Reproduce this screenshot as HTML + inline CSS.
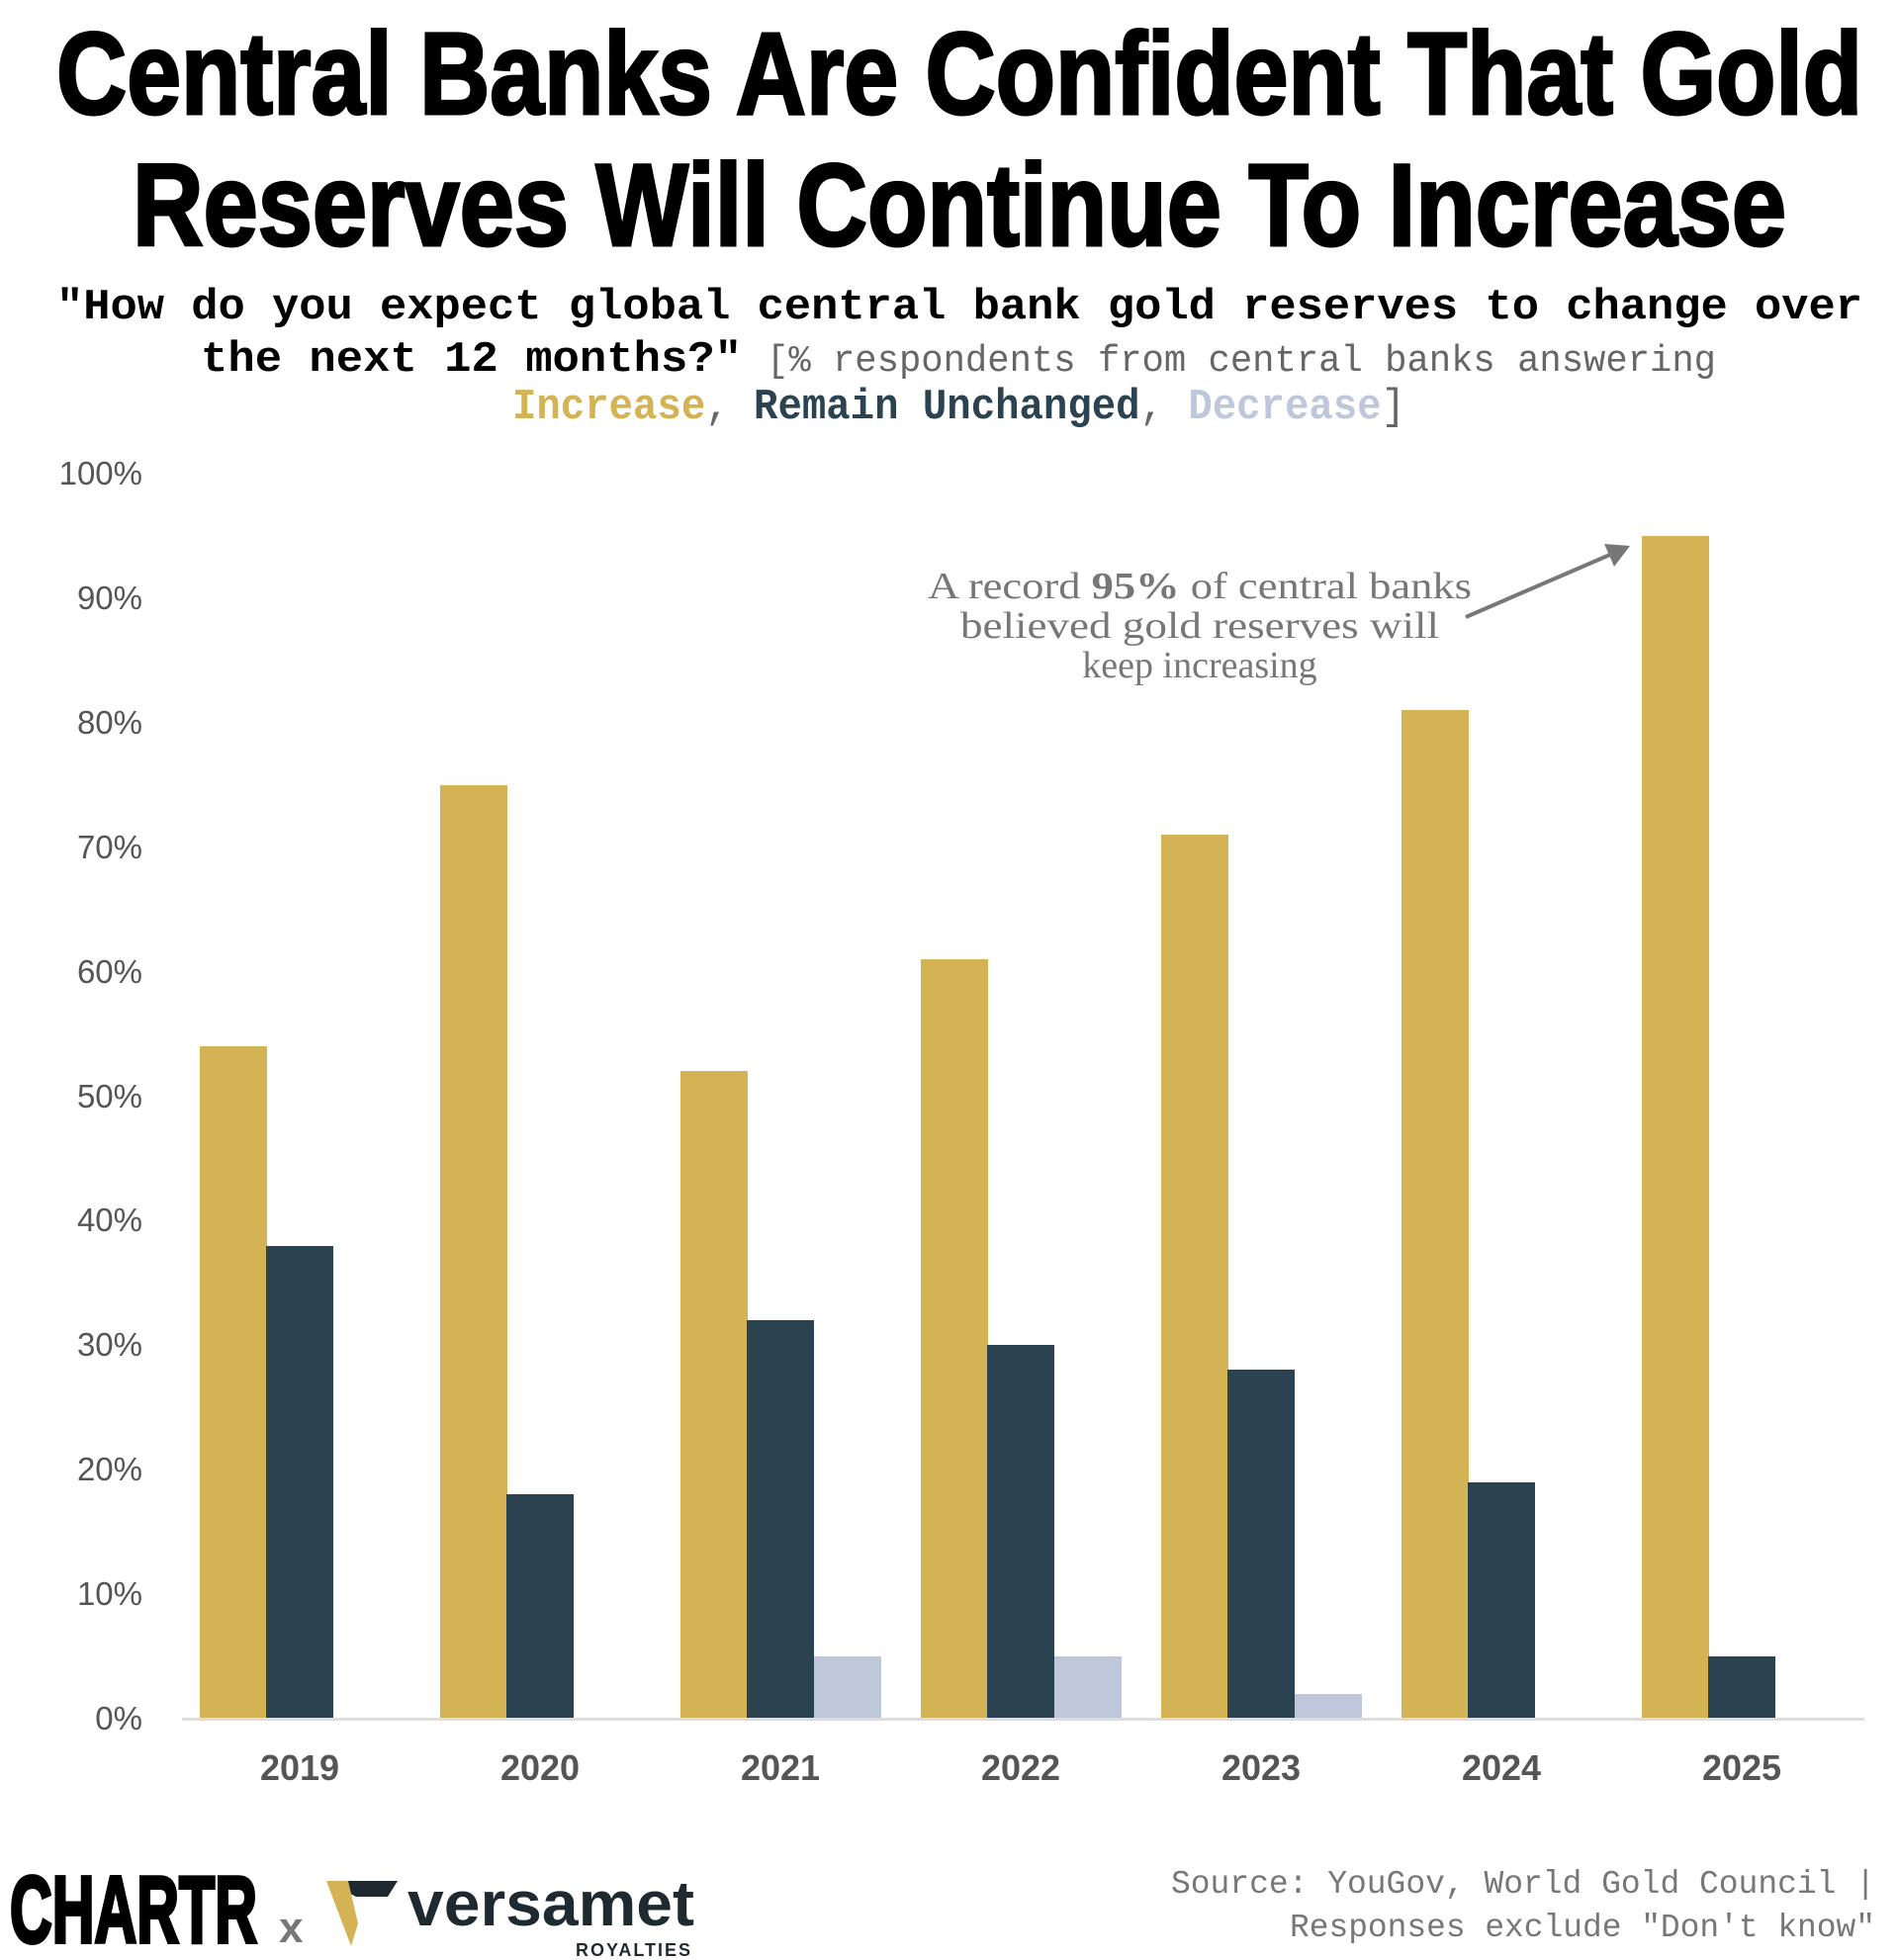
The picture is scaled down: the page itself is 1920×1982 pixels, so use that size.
<!DOCTYPE html>
<html><head><meta charset="utf-8"><style>html,body{margin:0;padding:0;background:#fff}svg{display:block}</style></head>
<body>
<svg width="1920" height="1982" viewBox="0 0 1920 1982" xmlns="http://www.w3.org/2000/svg">
<g font-family="'Liberation Sans Narrow','Liberation Sans',sans-serif" font-weight="bold" font-size="118" fill="#000" stroke="#000" stroke-width="3" text-anchor="middle">
<text x="970" y="115" textLength="1826" lengthAdjust="spacingAndGlyphs">Central Banks Are Confident That Gold</text>
<text x="970" y="248" textLength="1672" lengthAdjust="spacingAndGlyphs">Reserves Will Continue To Increase</text>
</g>
<g font-family="'Liberation Mono',monospace" font-size="44">
<text x="57" y="322" font-weight="bold" textLength="1826" lengthAdjust="spacingAndGlyphs">"How do you expect global central bank gold reserves to change over</text>
<text x="203" y="375" font-weight="bold" textLength="547" lengthAdjust="spacingAndGlyphs">the next 12 months?"</text>
<text x="775" y="375" fill="#666" font-size="38" textLength="960" lengthAdjust="spacingAndGlyphs">[% respondents from central banks answering</text>
<text x="518" y="423" textLength="903" lengthAdjust="spacingAndGlyphs"><tspan fill="#D4B354" font-weight="bold">Increase</tspan><tspan fill="#666">, </tspan><tspan fill="#2B4251" font-weight="bold">Remain Unchanged</tspan><tspan fill="#666">, </tspan><tspan fill="#BFC8DB" font-weight="bold">Decrease</tspan><tspan fill="#666">]</tspan></text>
</g>
<g font-family="'Liberation Sans',sans-serif" font-size="33" fill="#555" text-anchor="end">
<text x="144" y="490">100%</text>
<text x="144" y="616">90%</text>
<text x="144" y="742">80%</text>
<text x="144" y="868">70%</text>
<text x="144" y="994">60%</text>
<text x="144" y="1120">50%</text>
<text x="144" y="1245">40%</text>
<text x="144" y="1371">30%</text>
<text x="144" y="1497">20%</text>
<text x="144" y="1623">10%</text>
<text x="144" y="1749">0%</text>
</g>
<g>
<rect x="202" y="1058" width="68" height="680" fill="#D4B354"/>
<rect x="269" y="1260" width="68" height="478" fill="#2B4251"/>
<rect x="445" y="794" width="68" height="944" fill="#D4B354"/>
<rect x="512" y="1511" width="68" height="227" fill="#2B4251"/>
<rect x="688" y="1083" width="68" height="655" fill="#D4B354"/>
<rect x="755" y="1335" width="68" height="403" fill="#2B4251"/>
<rect x="823" y="1675" width="68" height="63" fill="#BFC8DB"/>
<rect x="931" y="970" width="68" height="768" fill="#D4B354"/>
<rect x="998" y="1360" width="68" height="378" fill="#2B4251"/>
<rect x="1066" y="1675" width="68" height="63" fill="#BFC8DB"/>
<rect x="1174" y="844" width="68" height="894" fill="#D4B354"/>
<rect x="1241" y="1385" width="68" height="353" fill="#2B4251"/>
<rect x="1309" y="1713" width="68" height="25" fill="#BFC8DB"/>
<rect x="1417" y="718" width="68" height="1020" fill="#D4B354"/>
<rect x="1484" y="1499" width="68" height="239" fill="#2B4251"/>
<rect x="1660" y="542" width="68" height="1196" fill="#D4B354"/>
<rect x="1727" y="1675" width="68" height="63" fill="#2B4251"/>
</g>
<rect x="184" y="1737" width="1701" height="3" fill="#ddd"/>
<g font-family="'Liberation Sans Narrow','Liberation Sans',sans-serif" font-weight="bold" font-size="36" fill="#555" text-anchor="middle">
<text x="303" y="1800">2019</text>
<text x="546" y="1800">2020</text>
<text x="789" y="1800">2021</text>
<text x="1032" y="1800">2022</text>
<text x="1275" y="1800">2023</text>
<text x="1518" y="1800">2024</text>
<text x="1761" y="1800">2025</text>
</g>
<g font-family="'Liberation Serif',serif" font-size="38" fill="#777" text-anchor="middle">
<text x="1213" y="605" textLength="550" lengthAdjust="spacingAndGlyphs">A record <tspan font-weight="bold">95%</tspan> of central banks</text>
<text x="1213" y="645" textLength="484" lengthAdjust="spacingAndGlyphs">believed gold reserves will</text>
<text x="1213" y="685">keep increasing</text>
</g>
<line x1="1482" y1="624" x2="1630" y2="560" stroke="#777" stroke-width="4"/>
<polygon points="1648,552 1622,550 1632,573" fill="#777"/>
<g font-family="'Liberation Sans Narrow','Liberation Sans',sans-serif" font-weight="bold">
<text x="10" y="1964" font-size="96" fill="#000" stroke="#000" stroke-width="4" textLength="250" lengthAdjust="spacingAndGlyphs">CHARTR</text>
<text x="282" y="1964" font-size="44" fill="#777">x</text>
<polygon points="330,1902 402,1902 392,1918 360,1918" fill="#1e2a30"/>
<polygon points="330,1902 352,1902 362,1945 355,1968" fill="#D4B354"/>
<text x="412" y="1947" font-size="64" fill="#1e2a30" textLength="290" lengthAdjust="spacingAndGlyphs">versamet</text>
<text x="700" y="1978" font-size="18" fill="#1e2a30" text-anchor="end" letter-spacing="2">ROYALTIES</text>
</g>
<g font-family="'Liberation Mono',monospace" font-size="33" fill="#777" text-anchor="end">
<text x="1896" y="1914" textLength="712" lengthAdjust="spacingAndGlyphs">Source: YouGov, World Gold Council |</text>
<text x="1896" y="1958" textLength="592" lengthAdjust="spacingAndGlyphs">Responses exclude "Don't know"</text>
</g>
</svg>
</body></html>
